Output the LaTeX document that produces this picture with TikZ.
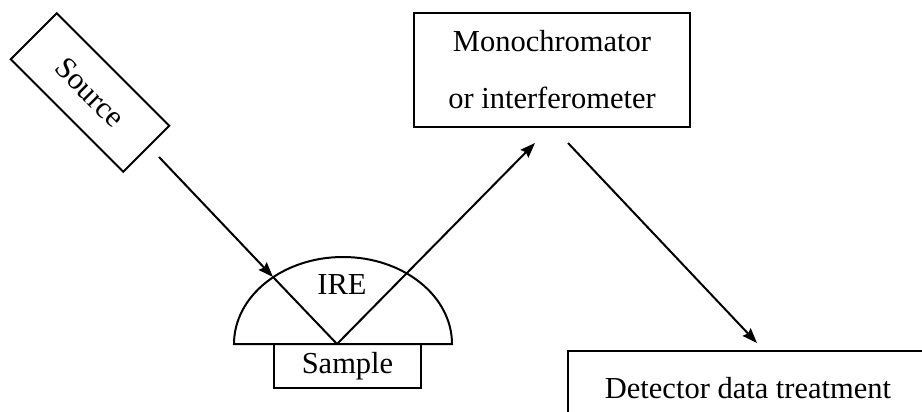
\documentclass[tikz,border=0pt]{standalone}
\usepackage{fontspec}
\setmainfont{Liberation Serif}
\usetikzlibrary{arrows.meta}
\tikzset{
  boxed/.style={draw, line width=2pt, inner sep=0pt, align=center,
    font=\fontsize{30.5}{57}\selectfont},
  lbl/.style={inner sep=0pt, font=\fontsize{30.5}{36}\selectfont},
  ray/.style={line width=2pt},
  rayarrow/.style={line width=2pt, -{Stealth[length=15pt,width=11pt,inset=2pt]}}
}
\begin{document}
\begin{tikzpicture}[x=1pt,y=-1pt]
\useasboundingbox (0,0) rectangle (922,412);
\fill[white] (0,0) rectangle (922,412);
\clip (0,0) rectangle (922,412);
% boxes
\node[boxed, rotate=-45, minimum width=159pt, minimum height=65pt] (src) at (90,92.5) {Source};
\node[boxed, minimum width=276pt, minimum height=114pt] (mono) at (552,70) {Monochromator\\or interferometer};
\node[boxed, minimum width=360pt, minimum height=74pt] (det) at (748,388) {Detector data treatment};
\node[boxed, minimum width=147pt, minimum height=44pt] (sample) at (347.5,366) {Sample};
% IRE half ellipse
\draw[line width=2pt] (234,344) arc[start angle=180, end angle=0, x radius=109pt, y radius=87pt] -- cycle;
\node[lbl] (ire) at (342,285) {IRE};
% ray coordinates
\coordinate (a1s) at (159,157);
\coordinate (a1m) at (273,277);
\coordinate (refl) at (337,344);
\coordinate (a2e) at (535,143);
\coordinate (a3s) at (568,143);
\coordinate (a3e) at (757,343);
% rays
\draw[rayarrow] (a1s) -- (a1m);
\draw[ray] (a1m) -- (refl);
\draw[rayarrow] (refl) -- (a2e);
\draw[rayarrow] (a3s) -- (a3e);
\end{tikzpicture}
\end{document}
